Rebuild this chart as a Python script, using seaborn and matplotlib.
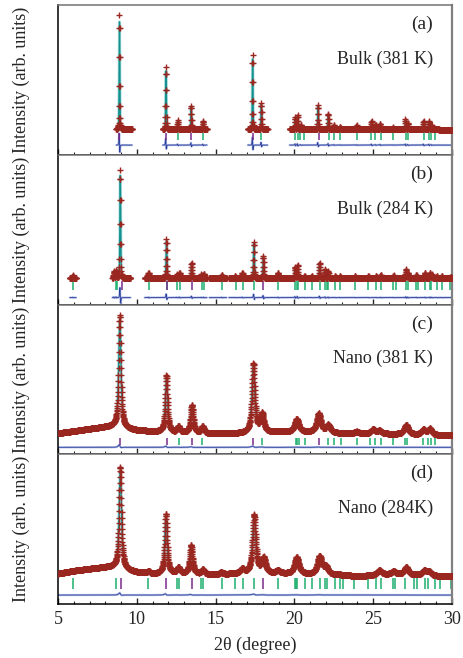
import numpy as np
import matplotlib
matplotlib.use("Agg")
import matplotlib.pyplot as plt
import seaborn as sns
from matplotlib.ticker import MultipleLocator

# ---- data (intensities in fractions of panel height) ----
x_min, x_max = 5.0, 30.0
step = 0.01

# (a) Bulk (381 K)
a_ranges = [(8.7, 9.7), (11.65, 14.45), (17.05, 18.3), (19.7, 30.0)]
a_bg_x = [5.0, 30.0]
a_bg_y = [0.17, 0.17]
a_peak_pos = [8.90, 11.85, 12.60, 13.45, 14.20, 17.35, 17.90, 20.05, 20.20, 20.40,
              21.50, 22.15, 22.50, 22.90, 23.95, 24.90, 25.15, 25.45, 26.25, 27.05,
              27.20, 28.20, 28.55, 28.70]
a_peak_amp = [0.764, 0.416, 0.06, 0.16, 0.054, 0.50, 0.18, 0.08, 0.093, 0.03,
              0.165, 0.106, 0.03, 0.02, 0.027, 0.06, 0.03, 0.04, 0.015, 0.067,
              0.04, 0.06, 0.054, 0.03]
a_purple = [8.90, 11.85, 13.45, 17.35, 21.55]
a_green = [12.60, 14.20, 17.90, 20.04, 20.20, 20.36, 20.60, 22.20, 22.50, 22.90,
           23.97, 24.86, 25.10, 25.50, 26.26, 27.06, 27.19, 28.20, 28.56, 28.70, 28.90]

# (b) Bulk (284 K)
b_ranges = [(5.75, 6.15), (8.45, 9.6), (10.5, 14.45), (14.6, 15.7), (15.85, 30.0)]
b_bg_x = [5.0, 30.0]
b_bg_y = [0.176, 0.176]
b_peak_pos = [5.95, 8.55, 8.70, 8.95, 10.75, 11.88, 12.55, 12.72, 13.48, 14.10,
              14.25, 15.40, 16.25, 16.70, 17.43, 18.03, 18.97, 20.05, 20.20, 20.65,
              21.10, 21.60, 21.95, 22.15, 22.60, 22.90, 23.85, 24.70, 25.20, 25.48,
              26.30, 27.08, 27.20, 27.75, 28.30, 28.60, 28.72, 29.05, 29.35, 29.92]
b_peak_amp = [0.02, 0.045, 0.05, 0.725, 0.037, 0.26, 0.025, 0.037, 0.105, 0.025,
              0.03, 0.025, 0.015, 0.037, 0.245, 0.15, 0.037, 0.075, 0.085, 0.015,
              0.015, 0.105, 0.06, 0.045, 0.015, 0.015, 0.015, 0.015, 0.015, 0.025,
              0.02, 0.06, 0.035, 0.025, 0.037, 0.037, 0.025, 0.015, 0.015, 0.01]
b_purple = [9.04, 11.90, 13.50, 18.03]
b_green = [5.97, 8.68, 8.74, 10.77, 11.90, 12.53, 12.74, 14.12, 14.27, 15.39, 16.27,
           16.72, 17.45, 18.98, 20.04, 20.14, 20.24, 20.67, 21.10, 21.62, 21.94, 22.04,
           22.13, 22.58, 22.89, 23.85, 24.69, 25.18, 25.48, 26.26, 26.45, 27.06, 27.19,
           27.70, 27.86, 28.29, 28.60, 28.70, 29.03, 29.35, 29.90]

# (c) Nano (381 K)
c_ranges = [(5.0, 30.0)]
c_bg_x = [5, 6, 7, 8, 8.5, 9.5, 10, 11, 12, 13, 15, 16.5, 19, 21, 23, 25, 27, 29, 30]
c_bg_y = [0.141, 0.155, 0.17, 0.182, 0.185, 0.168, 0.16, 0.153, 0.146, 0.142, 0.138,
          0.14, 0.15, 0.148, 0.14, 0.138, 0.134, 0.128, 0.128]
c_peak_pos = [8.92, 11.88, 12.65, 13.50, 14.18, 17.40, 17.95, 20.15, 21.55, 22.15,
              23.95, 25.00, 25.40, 27.10, 28.20, 28.60]
c_peak_amp = [0.75, 0.38, 0.04, 0.185, 0.045, 0.46, 0.12, 0.085, 0.125, 0.05,
              0.012, 0.028, 0.02, 0.062, 0.032, 0.04]
c_peak_fwhm = [0.17, 0.17, 0.2, 0.2, 0.2, 0.22, 0.25, 0.3, 0.3, 0.3,
               0.3, 0.3, 0.3, 0.3, 0.3, 0.3]
c_purple = [8.93, 11.90, 13.52, 17.39, 21.58]
c_green = [12.68, 14.15, 17.96, 20.10, 20.18, 20.27, 20.67, 22.15, 22.50, 22.94,
           23.95, 24.80, 25.10, 25.48, 26.27, 27.02, 27.17, 28.18, 28.50, 28.65, 28.92]

# (d) Nano (284K)
d_ranges = [(5.0, 30.0)]
d_bg_x = [5, 6, 7, 8, 8.5, 9.5, 10, 11, 12, 13, 15, 16.5, 19, 21, 23, 24, 26, 28, 29.5, 30]
d_bg_y = [0.203, 0.222, 0.235, 0.245, 0.245, 0.222, 0.212, 0.2, 0.203, 0.203, 0.196,
          0.203, 0.203, 0.198, 0.194, 0.185, 0.198, 0.193, 0.185, 0.188]
d_peak_pos = [8.95, 10.75, 11.85, 12.65, 13.45, 14.20, 15.35, 16.70, 17.45, 18.05,
              18.95, 20.15, 21.60, 22.00, 25.40, 26.30, 27.10, 28.25, 28.55]
d_peak_amp = [0.68, 0.015, 0.40, 0.04, 0.19, 0.03, 0.012, 0.03, 0.39, 0.10,
              0.018, 0.11, 0.12, 0.05, 0.03, 0.02, 0.05, 0.03, 0.025]
d_peak_fwhm = [0.18, 0.2, 0.18, 0.2, 0.2, 0.2, 0.25, 0.25, 0.25, 0.28,
               0.3, 0.32, 0.32, 0.3, 0.35, 0.3, 0.3, 0.3, 0.3]
d_purple = [9.00, 11.85, 13.48, 18.03]
d_green = [5.97, 8.68, 10.73, 12.53, 12.70, 14.07, 14.22, 15.39, 16.23, 16.72, 17.45,
           18.94, 20.04, 20.12, 20.19, 20.67, 21.10, 21.62, 21.94, 22.05, 22.58, 22.89,
           23.07, 23.78, 24.69, 25.20, 25.48, 26.27, 26.38, 27.02, 27.59, 27.76, 28.29,
           28.50, 28.92, 29.24, 29.92]

panel_tags = ["(a)", "(b)", "(c)", "(d)"]
panel_names = ["Bulk (381 K)", "Bulk (284 K)", "Nano (381 K)", "Nano (284K)"]


def pseudo_voigt(x, pos, amp, fwhm, eta):
    y = np.zeros_like(x)
    for p, a, w in zip(pos, amp, fwhm):
        hw = w / 2
        lor = hw ** 2 / ((x - p) ** 2 + hw ** 2)
        gau = np.exp(-np.log(2) * ((x - p) / hw) ** 2)
        y += a * (eta * lor + (1 - eta) * gau)
    return y


panels = [
    dict(ranges=a_ranges, bg=(a_bg_x, a_bg_y), pos=a_peak_pos, amp=a_peak_amp,
         fwhm=[0.05] * len(a_peak_pos), eta=0.3, purple=a_purple, green=a_green,
         tick_y=(0.10, 0.145), diff0=0.066, dscale=0.8),
    dict(ranges=b_ranges, bg=(b_bg_x, b_bg_y), pos=b_peak_pos, amp=b_peak_amp,
         fwhm=[0.06] * len(b_peak_pos), eta=0.3, purple=b_purple, green=b_green,
         tick_y=(0.095, 0.158), diff0=0.047, dscale=0.8),
    dict(ranges=c_ranges, bg=(c_bg_x, c_bg_y), pos=c_peak_pos, amp=c_peak_amp,
         fwhm=c_peak_fwhm, eta=0.8, purple=c_purple, green=c_green,
         tick_y=(0.065, 0.112), diff0=0.047, dscale=0.35),
    dict(ranges=d_ranges, bg=(d_bg_x, d_bg_y), pos=d_peak_pos, amp=d_peak_amp,
         fwhm=d_peak_fwhm, eta=0.8, purple=d_purple, green=d_green,
         tick_y=(0.098, 0.172), diff0=0.06, dscale=0.35),
]

obs_color = "#9a2620"
calc_color = "#14908e"
calc_halo = "#b4e2e2"
green_color = "#1fae6e"
purple_color = "#7a2a8c"
diff_color = "#2a3f9c"
diff_halo = "#b3bde4"

sns.set_style("ticks")
plt.rcParams["font.family"] = ["Liberation Serif", "DejaVu Serif"]

fig, axes = plt.subplots(4, 1, figsize=(4.64, 6.58), dpi=100, sharex=True,
                         gridspec_kw=dict(hspace=0))
fig.subplots_adjust(left=0.125, right=0.974, top=0.992, bottom=0.082)

for i, (ax, p) in enumerate(zip(axes, panels)):
    for lo, hi in p["ranges"]:
        x = np.arange(lo, hi + step / 2, step)
        bg = np.interp(x, p["bg"][0], p["bg"][1])
        obs = bg + pseudo_voigt(x, p["pos"], p["amp"], p["fwhm"], p["eta"])
        calc = bg + pseudo_voigt(x, [q + 0.004 for q in p["pos"]],
                                 [a * 0.96 for a in p["amp"]], p["fwhm"], p["eta"])
        diff = p["diff0"] + p["dscale"] * (obs - calc)
        sns.lineplot(x=x, y=diff, ax=ax, color=diff_halo, lw=1.6, estimator=None, sort=False)
        sns.lineplot(x=x, y=diff, ax=ax, color=diff_color, lw=0.6, estimator=None, sort=False)
        sns.lineplot(x=x, y=calc, ax=ax, color=calc_halo, lw=2.2, estimator=None,
                     sort=False, zorder=2)
        sns.lineplot(x=x, y=calc, ax=ax, color=calc_color, lw=1.0, estimator=None,
                     sort=False, zorder=2.5)
        sns.scatterplot(x=x, y=obs, ax=ax, marker="+", s=14, color=obs_color,
                        linewidth=1.0, zorder=3)

    y0, y1 = p["tick_y"]
    ax.vlines(p["green"], y0, y1, color=green_color, lw=1.1)
    ax.vlines(p["purple"], y0, y1, color=purple_color, lw=1.1)

    ax.set_xlim(x_min, x_max)
    ax.set_ylim(0, 1)
    ax.set_yticks([])
    ax.set_ylabel("Intensity (arb. units)", fontsize=13)
    ax.yaxis.set_label_coords(-0.07, 0.5)
    ax.xaxis.set_major_locator(MultipleLocator(5))
    ax.xaxis.set_minor_locator(MultipleLocator(1))
    ax.tick_params(axis="x", which="major", direction="in", length=4, width=1,
                   labelsize=13, top=False, pad=5)
    ax.tick_params(axis="x", which="minor", direction="in", length=2.5, width=0.8, top=False)
    for side in ["left", "bottom"]:
        ax.spines[side].set_linewidth(1.1)
        ax.spines[side].set_color("black")
    ax.spines["right"].set_color("0.5")
    ax.spines["right"].set_linewidth(1.6)
    ax.spines["top"].set_color("0.45")
    ax.spines["top"].set_linewidth(1.1)

    ax.text(0.952, 0.87, panel_tags[i], transform=ax.transAxes, ha="right",
            va="center", fontsize=14)
    ax.text(0.952, 0.64, panel_names[i], transform=ax.transAxes, ha="right",
            va="center", fontsize=13)

axes[-1].set_xlabel("2θ (degree)", fontsize=13, labelpad=6)

fig.savefig("out.png", dpi=100)
